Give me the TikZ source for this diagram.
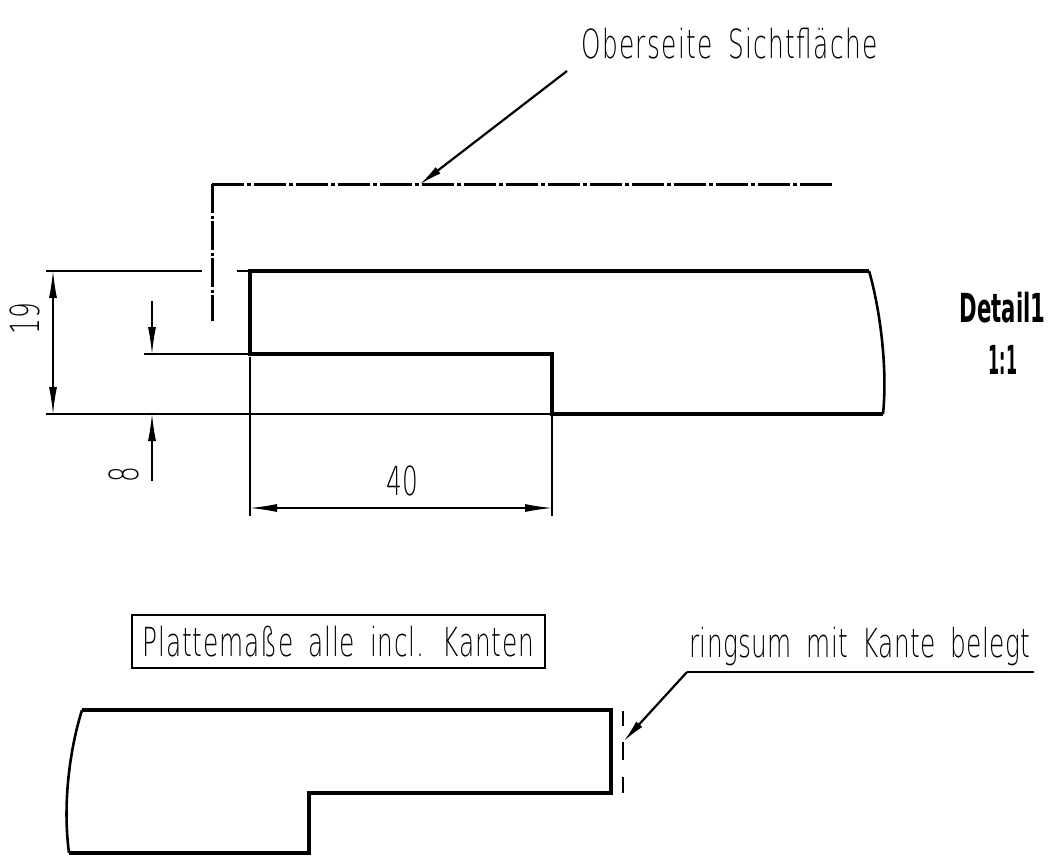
\documentclass[tikz,border=0pt]{standalone}
\usepackage{fontspec}
\usetikzlibrary{arrows.meta}
\newfontfamily\isofont[FakeStretch=0.62,LetterSpace=1,WordSpace=1.75]{DejaVu Sans ExtraLight}
\newfontfamily\isobold[FakeStretch=0.53]{DejaVu Sans Bold}
\tikzset{
  contour/.style={line width=3.4pt, line join=miter},
  arc line/.style={line width=2.6pt},
  thin line/.style={line width=1.2pt},
  chain line/.style={line width=3pt},
  leader/.style={line width=2.2pt, -{Latex[length=24pt,width=8pt]}},
  dimline/.style={line width=1.2pt, {Latex[length=27pt,width=8pt]}-{Latex[length=27pt,width=8pt]}},
  dimarrow/.style={line width=1.2pt, -{Latex[length=27pt,width=8pt]}},
  label/.style={inner sep=0pt, font=\isofont\fontsize{40}{40}\selectfont, text=black},
  bold label/.style={inner sep=0pt, font=\isobold\fontsize{40}{40}\selectfont}
}
\begin{document}
\begin{tikzpicture}[x=1pt,y=-1pt]
    \useasboundingbox (0,0) rectangle (1048,863);

    % upper profile
    \coordinate (a) at (250,271);
    \coordinate (b) at (869,271);
    \coordinate (c) at (883,414);
    \coordinate (d) at (552,414);
    \coordinate (e) at (552,354);
    \coordinate (f) at (250,354);
    \draw[contour] (c) -- (d) -- (e) -- (f) -- (a) -- (b);
    \draw[arc line] (b) .. controls (879,305) and (888,365) .. (c);

    % extension lines
    \coordinate (g1) at (46,271);
    \coordinate (g2) at (202,271);
    \coordinate (g3) at (237,271);
    \coordinate (g4) at (248,271);
    \coordinate (h1) at (144,354);
    \coordinate (i1) at (46,414);
    \coordinate (j1) at (250,357);
    \coordinate (j2) at (250,516);
    \coordinate (k2) at (552,516);
    \draw[thin line] (g1) -- (g2);
    \draw[thin line] (g3) -- (g4);
    \draw[thin line] (h1) -- (f);
    \draw[thin line] (i1) -- (d);
    \draw[thin line] (j1) -- (j2);
    \draw[thin line] (d) -- (k2);

    % dimensions
    \coordinate (m1) at (53,271);
    \coordinate (m2) at (53,414);
    \coordinate (n1) at (152,301);
    \coordinate (n2) at (152,354);
    \coordinate (n3) at (152,481);
    \coordinate (n4) at (152,414);
    \coordinate (o1) at (250,508);
    \coordinate (o2) at (552,508);
    \draw[dimline] (m1) -- (m2);
    \draw[dimarrow] (n1) -- (n2);
    \draw[dimarrow] (n3) -- (n4);
    \draw[dimline] (o1) -- (o2);
    \node[label, rotate=90] (nineteen) at (25,319) {19};
    \node[label, rotate=90] (eight) at (123.5,475) {8};
    \node[label] (forty) at (402,481) {40};

    % chain line
    \coordinate (p1) at (212,184);
    \coordinate (p2) at (832,184);
    \coordinate (p3) at (212,321);
    \draw[chain line, dash pattern=on 32pt off 3pt on 4pt off 3pt] (p1) -- (p2);
    \draw[chain line, dash pattern=on 29pt off 2.5pt on 3pt off 2.5pt] (p1) -- (p3);

    \node[label, anchor=base west] (top) at (581,58) {\addfontfeature{LetterSpace=3.3}Oberseite Sichtfläche};
    \coordinate (q1) at (567,71);
    \coordinate (q2) at (419,185);
    \draw[leader] (q1) -- (q2);

    \node[bold label] (detail) at (1002.5,308) {Detail1};
    \node[bold label, transform shape, xscale=.75] (ratio) at (1003,360) {1:1};

    \node[label, draw, line width=1.2pt, minimum width=413pt, minimum height=53pt] (plate) at (338.5,641.5) {\addfontfeature{LetterSpace=2}Plattemaße alle incl. Kanten};

    % lower profile
    \coordinate (r) at (82,710);
    \coordinate (s) at (611,710);
    \coordinate (t) at (611,793);
    \coordinate (u) at (309,793);
    \coordinate (v) at (309,853);
    \coordinate (w) at (69,853);
    \draw[arc line] (w) .. controls (62,800) and (71,745) .. (r);
    \draw[contour] (r) -- (s) -- (t) -- (u) -- (v) -- (w);

    % edge note
    \coordinate (x1) at (623,711);
    \coordinate (x2) at (623,726);
    \coordinate (x3) at (623,742);
    \coordinate (x4) at (623,760);
    \coordinate (x5) at (623,777);
    \coordinate (x6) at (623,793);
    \draw[thin line] (x1) -- (x2);
    \draw[thin line] (x3) -- (x4);
    \draw[thin line] (x5) -- (x6);
    \coordinate (y1) at (1034,672);
    \coordinate (y2) at (687,672);
    \draw[line width=2.2pt] (y1) -- (y2);
    \draw[leader] (y2) -- (x3);
    \node[label, anchor=base west] (edge) at (689,657) {ringsum mit Kante belegt};
\end{tikzpicture}
\end{document}
